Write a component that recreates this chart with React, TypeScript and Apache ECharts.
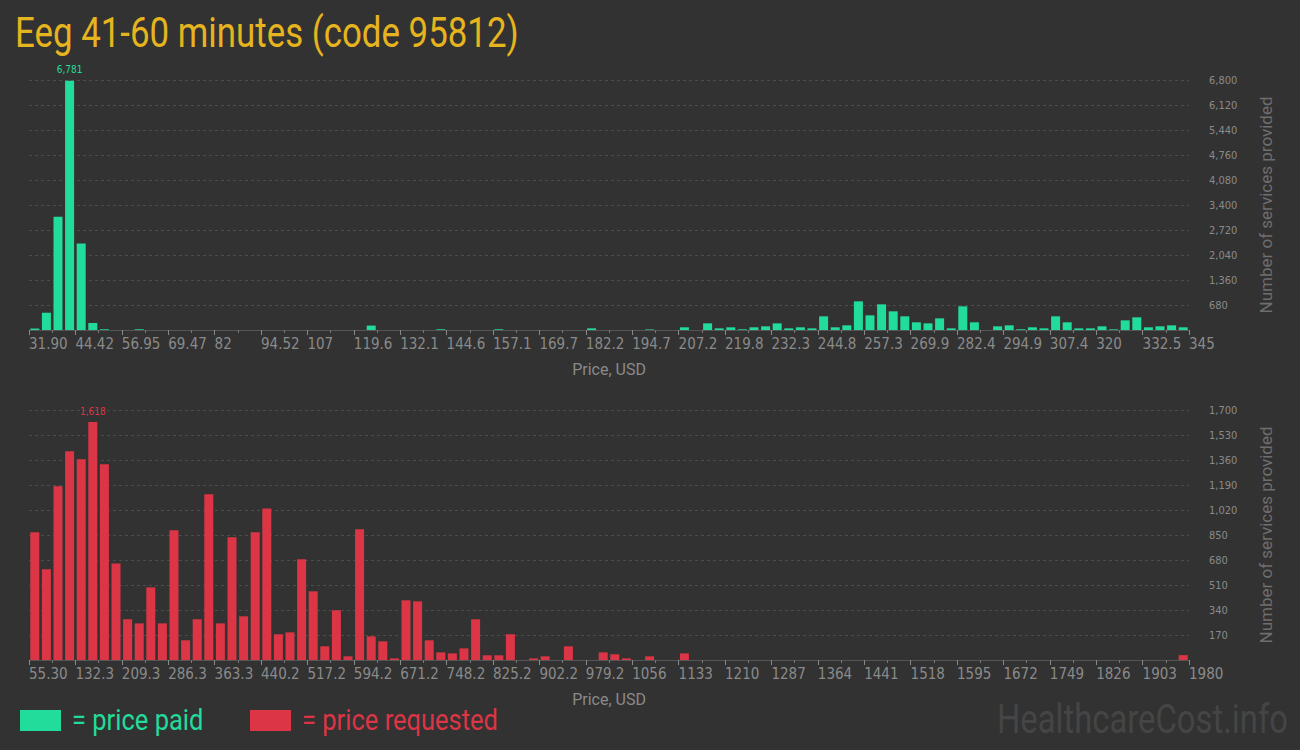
import React, { useEffect, useRef } from "react";
import * as echarts from "echarts";

// ---- data -----------------------------------------------------------
const paidTicks = [
  "31.90", "44.42", "56.95", "69.47", "82", "94.52", "107", "119.6", "132.1",
  "144.6", "157.1", "169.7", "182.2", "194.7", "207.2", "219.8", "232.3",
  "244.8", "257.3", "269.9", "282.4", "294.9", "307.4", "320", "332.5", "345",
];
// 100 price bins, number of services (price paid)
const paidCounts = [
  40, 470, 3080, 6781, 2350, 190, 20, 0, 0, 20,
  0, 0, 0, 0, 0, 0, 0, 0, 0, 0,
  0, 0, 0, 0, 0, 0, 0, 0, 0, 120,
  0, 0, 0, 0, 0, 20, 0, 0, 0, 0,
  20, 0, 0, 0, 0, 0, 0, 0, 45, 0,
  0, 0, 0, 15, 0, 0, 73, 0, 181, 45,
  73, 20, 73, 100, 181, 45, 73, 45, 372, 73,
  127, 780, 399, 698, 508, 372, 209, 181, 317, 45,
  644, 209, 0, 100, 127, 18, 73, 45, 372, 209,
  45, 45, 100, 18, 263, 345, 73, 100, 127, 73,
];

const requestedTicks = [
  "55.30", "132.3", "209.3", "286.3", "363.3", "440.2", "517.2", "594.2",
  "671.2", "748.2", "825.2", "902.2", "979.2", "1056", "1133", "1210", "1287",
  "1364", "1441", "1518", "1595", "1672", "1749", "1826", "1903", "1980",
];
// 100 price bins, number of services (price requested)
const requestedCounts = [
  868, 617, 1181, 1419, 1365, 1618, 1331, 657, 277, 249,
  494, 249, 882, 134, 277, 1127, 249, 834, 297, 868,
  1031, 175, 188, 685, 467, 93, 338, 25, 889, 161,
  127, 11, 406, 399, 134, 52, 45, 79, 277, 32,
  32, 175, 0, 11, 25, 0, 93, 0, 0, 52,
  39, 11, 0, 25, 0, 0, 45, 0, 0, 0,
  0, 0, 0, 0, 0, 0, 0, 0, 0, 0,
  0, 0, 0, 0, 0, 0, 0, 0, 0, 0,
  0, 0, 0, 0, 0, 0, 0, 0, 0, 0,
  0, 0, 0, 0, 0, 0, 0, 0, 0, 33,
];

const paidMax = 6800;
const paidStep = 680;
const requestedMax = 1700;
const requestedStep = 170;

const titleText = "Eeg 41-60 minutes (code 95812)";

// ---- styles ---------------------------------------------------------
const BG = "#323232";
const GREEN = "#21dc9a";
const RED = "#dc3545";
const GOLD = "#e6b41e";
const AXIS_TXT = "#8a8a8a";
const NARROW = "'Liberation Sans Narrow', 'DejaVu Sans Condensed', Roboto, sans-serif";

function barData(values: number[]) {
  const maxIdx = values.indexOf(Math.max(...values));
  return values.map((v, i) =>
    i === maxIdx
      ? { value: [i + 0.5, v], label: { show: true } }
      : { value: [i + 0.5, v] }
  );
}

function xAxis(gridIndex: number, ticks: string[]) {
  return {
    type: "value",
    gridIndex,
    min: 0,
    max: (ticks.length - 1) * 4,
    interval: 4,
    name: "Price, USD",
    nameLocation: "middle",
    nameGap: 31,
    nameTextStyle: { color: AXIS_TXT, fontSize: 16, fontFamily: "Roboto" },
    axisLine: { show: true, lineStyle: { color: "#555555", width: 1 } },
    axisTick: { show: true, length: 5, lineStyle: { color: "#8a8a8a" } },
    minorTick: { show: true, splitNumber: 2, length: 3, lineStyle: { color: "#777777" } },
    splitLine: { show: false },
    minorSplitLine: { show: false },
    axisLabel: {
      show: true,
      align: "left",
      margin: 6,
      color: AXIS_TXT,
      fontSize: 15,
      fontFamily: NARROW,
      showMinLabel: true,
      showMaxLabel: true,
      formatter: (v: number) => ticks[Math.round(v / 4)] ?? "",
    },
  };
}

function yAxis(gridIndex: number, max: number, step: number) {
  return {
    type: "value",
    gridIndex,
    position: "right",
    min: 0,
    max,
    interval: step,
    name: "Number of services provided",
    nameLocation: "middle",
    nameRotate: 90,
    nameGap: 68,
    nameTextStyle: { color: "#6e6e6e", fontSize: 17, fontFamily: "Roboto" },
    axisLine: { show: false },
    axisTick: { show: false },
    splitLine: { show: true, lineStyle: { color: "#4c4c4c", type: [3, 3], width: 1 } },
    axisLabel: {
      margin: 20,
      color: AXIS_TXT,
      fontSize: 11,
      fontFamily: NARROW,
      formatter: (v: number) => (v === 0 ? "" : v.toLocaleString("en-US")),
    },
  };
}

function barSeries(idx: number, values: number[], color: string) {
  return {
    type: "bar",
    xAxisIndex: idx,
    yAxisIndex: idx,
    barWidth: 9,
    itemStyle: { color },
    label: {
      show: false,
      position: "top",
      distance: 6,
      color,
      fontSize: 10,
      fontFamily: NARROW,
      formatter: (p: any) => Number(p.value[1]).toLocaleString("en-US"),
    },
    data: barData(values),
  };
}

export default function App() {
  const ref = useRef<HTMLDivElement>(null);

  useEffect(() => {
    document.body.style.margin = "0";
    document.body.style.background = BG;
    if (!ref.current) return;
    const chart = echarts.init(ref.current, undefined, { renderer: "svg" });
    chart.setOption({
      animation: false,
      backgroundColor: BG,
      grid: [
        { left: 29, top: 80, width: 1160, height: 250, containLabel: false },
        { left: 29, top: 410, width: 1160, height: 250, containLabel: false },
      ],
      xAxis: [xAxis(0, paidTicks), xAxis(1, requestedTicks)],
      yAxis: [yAxis(0, paidMax, paidStep), yAxis(1, requestedMax, requestedStep)],
      series: [barSeries(0, paidCounts, GREEN), barSeries(1, requestedCounts, RED)],
      graphic: [
        {
          type: "text",
          x: 15,
          y: 32,
          scaleX: 0.83,
          style: {
            text: titleText,
            fill: GOLD,
            fontSize: 42,
            fontFamily: "Roboto",
            verticalAlign: "middle",
          },
        },
        { type: "rect", shape: { x: 20, y: 710, width: 41, height: 21 }, style: { fill: GREEN } },
        {
          type: "text",
          x: 72,
          y: 720,
          scaleX: 0.85,
          style: { text: "= price paid", fill: GREEN, fontSize: 30, fontFamily: "Roboto", verticalAlign: "middle" },
        },
        { type: "rect", shape: { x: 250, y: 710, width: 41, height: 21 }, style: { fill: RED } },
        {
          type: "text",
          x: 302,
          y: 720,
          scaleX: 0.85,
          style: { text: "= price requested", fill: RED, fontSize: 30, fontFamily: "Roboto", verticalAlign: "middle" },
        },
        {
          type: "text",
          x: 1288,
          y: 719,
          scaleX: 0.82,
          style: {
            text: "HealthcareCost.info",
            fill: "#454545",
            fontSize: 40,
            fontFamily: "Roboto",
            align: "right",
            verticalAlign: "middle",
          },
        },
      ],
    });
    return () => chart.dispose();
  }, []);

  return <div ref={ref} style={{ width: 1300, height: 750 }} />;
}
